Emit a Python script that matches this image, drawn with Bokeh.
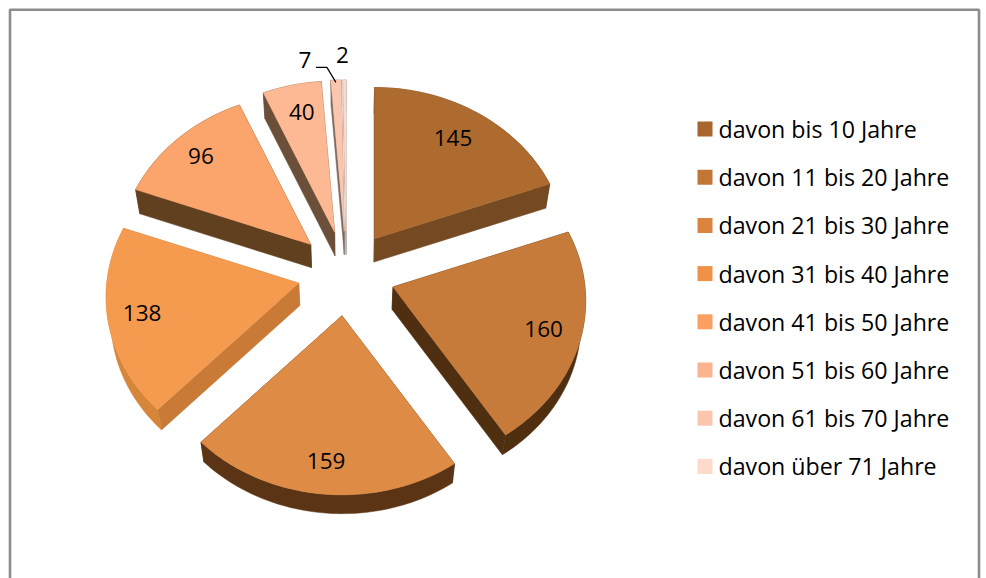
import math
from bokeh.plotting import figure
from bokeh.embed import file_html
from bokeh.resources import INLINE
from bokeh.core.properties import value

# data
categories = ["davon bis 10 Jahre", "davon 11 bis 20 Jahre", "davon 21 bis 30 Jahre", "davon 31 bis 40 Jahre",
              "davon 41 bis 50 Jahre", "davon 51 bis 60 Jahre", "davon 61 bis 70 Jahre", "davon über 71 Jahre"]
counts = [145, 160, 159, 138, 96, 40, 7, 2]

# styles
top_colors = ["#AE6B30", "#C77B3B", "#DE8B45", "#F59B50", "#FBA56C", "#FDB894", "#FCC5AD", "#FDD9CB"]
legend_colors = ["#A9652E", "#C27636", "#DB8440", "#EF9147", "#FA9F60", "#FBB48F", "#FCC6AE", "#FDDACB"]
radial_colors = ["#754A23", "#4F2F10", "#5A3415", "#C87A36", "#61401F", "#6B4F38", "#7D6A5F", "#A59A94"]
arc_colors = ["#754A23", "#4F2F10", "#5A3415", "#D58639", "#61401F", "#6B4F38", "#7D6A5F", "#A59A94"]

# projection of the tilted 3D pie (page pixels)
CX, CY, EXPL_X, EXPL_Y = 346.0, 273.0, 49.0, 42.4
R, H, PERSP = 192.0, 164.0, 0.0843
label_radius = [0.73, 0.83, 0.83, 0.835, 0.784, 0.80, 1.15, 1.20]
label_shift_x = [2, -4, 0, 2, -5, 2, -30, -2]
label_shift_y = [-7, -2, 0, -2, -4, -1, 1, 3]
FONT = "Open Sans"
LABEL_PX = "22.5px"
LEGEND_PX = "23.2px"


def proj(theta, r=1.0):
    u, v = math.sin(theta) * r, -math.cos(theta) * r
    w = 1 - PERSP * v
    return R * u / w, H * v / w


def lower(pt):
    x, y = pt
    return CX + (x - CX) * 0.98, y + 27.5 - 0.0175 * y


total = sum(counts)
p = figure(width=986, height=578, x_range=(0, 986), y_range=(578, 0), output_backend="svg",
           toolbar_location=None, min_border=0, outline_line_color=None, background_fill_color="white")
p.xaxis.visible = False
p.yaxis.visible = False
p.xgrid.visible = False
p.ygrid.visible = False

# chart frame, open at the bottom where the page cuts it
p.line(x=[9.5, 9.5, 978.5, 978.5], y=[578, 9.3, 9.3, 578], line_color="#8C8C8C", line_width=2.6)

cum = 0.0
label_x, label_y = [], []
for i, c in enumerate(counts):
    a0 = cum / total * 2 * math.pi
    cum += c
    a1 = cum / total * 2 * math.pi
    mid = (a0 + a1) / 2
    tx = CX + EXPL_X * math.sin(mid)
    ty = CY - EXPL_Y * math.cos(mid)
    n = max(4, int((a1 - a0) * 40))
    arc = []
    for k in range(n + 1):
        dx, dy = proj(a0 + (a1 - a0) * k / n)
        arc.append((tx + dx, ty + dy))
    tip = (tx, ty)
    arc_low = [lower(q) for q in arc]
    tip_low = lower(tip)
    faces = [
        ([tip, arc[0], arc_low[0], tip_low], radial_colors[i]),
        ([tip, arc[-1], arc_low[-1], tip_low], radial_colors[i]),
        (arc + arc_low[::-1], arc_colors[i]),
    ]
    for poly, col in faces:
        p.patch([q[0] for q in poly], [q[1] for q in poly], fill_color=col, line_color=col, line_width=0.5)
    poly = [tip] + arc
    p.patch([q[0] for q in poly], [q[1] for q in poly], fill_color=top_colors[i], line_color=top_colors[i], line_width=0.5)
    lx, ly = proj(mid, label_radius[i])
    label_x.append(tx + lx + label_shift_x[i])
    label_y.append(ty + ly + label_shift_y[i])

p.text(x=label_x, y=label_y, text=[str(c) for c in counts], text_font=value(FONT), text_font_size=LABEL_PX,
       text_color="#000000", text_align="center", text_baseline="middle")

# leader line of the small slice
p.line(x=[label_x[6] + 11, label_x[6] + 22, label_x[6] + 31], y=[label_y[6] + 7, label_y[6] + 7, label_y[6] + 22],
       line_color="#000000", line_width=1.2)

# legend
leg_y = [128.5 + 48.2 * i for i in range(len(categories))]
p.rect(x=[704.5] * len(categories), y=leg_y, width=15, height=15, fill_color=legend_colors, line_color=None)
p.text(x=[718] * len(categories), y=leg_y, text=categories, text_font=value(FONT), text_font_size=LEGEND_PX,
       text_color="#000000", text_align="left", text_baseline="middle")

open("out.html", "w").write(file_html(p, INLINE))
